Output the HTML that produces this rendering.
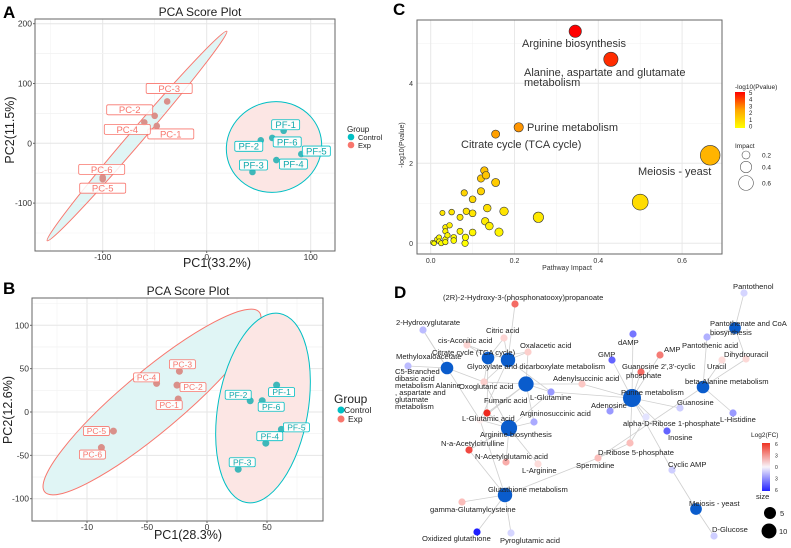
<!DOCTYPE html>
<html><head><meta charset="utf-8"><style>
html,body{margin:0;padding:0;background:#fff;}
svg{display:block;font-family:"Liberation Sans",sans-serif;}
</style></head><body>
<svg id="fig" width="791" height="548" viewBox="0 0 791 548" xmlns="http://www.w3.org/2000/svg">
<g id="pA"></g>
<g id="pB"></g>
<g id="pC"></g>
<g id="pD"></g>
</svg>
<script>
// ---------- Panel A data ----------
const aNames = ["PC-1","PC-2","PC-3","PC-4","PC-5","PC-6","PF-1","PF-2","PF-3","PF-4","PF-5","PF-6"];
const aPC1 = [-48,-50,-38,-60,-100,-100,74,52,44,67,91,63];
const aPC2 = [29,46,70,35,-60,-57,21,5,-48,-28,-18,9];
const aXTicks = [-100,0,100];
const aYTicks = [-100,0,100,200];
// ---------- Panel B data ----------
const bNames = ["PC-1","PC-2","PC-3","PC-4","PC-5","PC-6","PF-1","PF-2","PF-3","PF-4","PF-5","PF-6"];
const bPC1 = [-24,-25,-23,-42,-78,-88,58,36,26,49,62,46];
const bPC2 = [15,31,47,33,-22,-41,31,13,-66,-36,-20,13];
const bXTicks = [-100,-50,0,50];
const bXTickLabels = ["-10","-50","0","50"];
const bYTicks = [-100,-50,0,50,100];
// ---------- Panel C data ----------
const cImpact = [0.345,0.43,0.21,0.155,0.667,0.5,0.257,0.175,0.163,0.14,0.13,0.135,0.155,0.128,0.132,0.12,0.12,0.1,0.08,0.085,0.1,0.07,0.05,0.028,0.1,0.083,0.082,0.07,0.045,0.035,0.035,0.04,0.055,0.055,0.035,0.035,0.02,0.02,0.015,0.025,0.008,0.005];
const cLogP = [5.3,4.6,2.9,2.73,2.2,1.03,0.65,0.8,0.28,0.43,0.55,0.88,1.52,1.82,1.7,1.62,1.3,1.1,1.26,0.8,0.75,0.65,0.78,0.76,0.27,0.15,0.0,0.3,0.45,0.4,0.3,0.2,0.15,0.07,0.1,0.03,0.15,0.05,0.1,0.0,0.0,0.02];
const cXTicks = [0,0.2,0.4,0.6];
const cXTickLabels = ["0.0","0.2","0.4","0.6"];
const cYTicks = [0,2,4];

const NS="http://www.w3.org/2000/svg";
function mk(parent,tag,attrs,text){const e=document.createElementNS(NS,tag);for(const k in attrs)e.setAttribute(k,attrs[k]);if(text!==undefined)e.textContent=text;parent.appendChild(e);return e;}

const EXP="#F8766D", CTL="#00BFC4";

function pcaPanel(g,o){
  const {L,R,T,B,sx,sy,xt,xtl,yt,names,xs,ys,offs,fs,bwE,bwC,bh,ells}=o;
  const bg=mk(g,'rect',{x:L,y:T,width:R-L,height:B-T,fill:'#fff'});
  
  
  for(let i=0;i<xt.length;i++){
    const v=xt[i]; const step=xt[1]-xt[0];
    [v-step/2,v+step/2].forEach(m=>{const px=sx(m); if(px>L&&px<R){mk(g,'line',{x1:px,x2:px,y1:T,y2:B,stroke:'#f2f2f2','stroke-width':0.6});}});
    const l=mk(g,'line',{x1:sx(v),x2:sx(v),y1:T,y2:B,stroke:'#e6e6e6','stroke-width':1});
    
    
  }
  for(let i=0;i<yt.length;i++){
    const v=yt[i]; const step=yt[1]-yt[0];
    [v-step/2,v+step/2].forEach(m=>{const py=sy(m); if(py>T&&py<B){mk(g,'line',{x1:L,x2:R,y1:py,y2:py,stroke:'#f2f2f2','stroke-width':0.6});}});
    const l=mk(g,'line',{x1:L,x2:R,y1:sy(v),y2:sy(v),stroke:'#e6e6e6','stroke-width':1});
    
    
  }
  ells.forEach(e=>{
    const el=mk(g,'ellipse',{cx:e.cx,cy:e.cy,rx:e.rx,ry:e.ry,transform:`rotate(${e.rot} ${e.cx} ${e.cy})`,fill:e.fill,stroke:e.stroke,'stroke-width':1});
    
    
  });
  for(let i=0;i<names.length;i++){
    const isExp=names[i].startsWith('PC');
    const px=sx(xs[i]), py=sy(ys[i]);
    const c=mk(g,'circle',{cx:px,cy:py,r:o.pr,fill:isExp?'#d9908a':'#3fb7b9'});
    
    
  }
  for(let i=0;i<names.length;i++){
    const isExp=names[i].startsWith('PC');
    const bw=isExp?bwE:bwC;
    const px=sx(xs[i])+offs[i][0], py=sy(ys[i])+offs[i][1];
    const r=mk(g,'rect',{x:px-bw/2,y:py-bh/2,width:bw,height:bh,rx:1.5,fill:'rgba(255,255,255,0.85)',stroke:isExp?EXP:CTL,'stroke-width':0.8});
    
    
    const t=mk(g,'text',{x:px,y:py+fs*0.36,'text-anchor':'middle','font-size':fs,fill:isExp?EXP:'#10a9ad'},names[i]);
    
    
  }
  const fr=mk(g,'rect',{x:L,y:T,width:R-L,height:B-T,fill:'none',stroke:'#666','stroke-width':1});
  
  
  xt.forEach((v,i)=>{const t=mk(g,'text',{x:sx(v),y:B+9,'text-anchor':'middle','font-size':8.5,fill:'#333'},xtl?xtl[i]:String(v));
    
    
    mk(g,'line',{x1:sx(v),x2:sx(v),y1:B,y2:B+2,stroke:'#666'});});
  yt.forEach(v=>{const t=mk(g,'text',{x:L-3,y:sy(v)+3,'text-anchor':'end','font-size':8.5,fill:'#333'},String(v));
    
    
    mk(g,'line',{x1:L-2,x2:L,y1:sy(v),y2:sy(v),stroke:'#666'});});
}

// Panel A
(function(){
  const g=document.getElementById('pA');
  const sx=v=>206.7+v*1.04, sy=v=>143.3-v*0.598;
  pcaPanel(g,{L:35,R:335,T:19,B:251,sx,sy,xt:aXTicks,yt:aYTicks,names:aNames,xs:aPC1,ys:aPC2,pr:3.3,fs:9.5,bwE:46,bwC:28,bh:10,
    offs:[[14,8],[-25,-6],[2,-13],[-17,7],[0,9],[-1,-8],[2,-6],[-12,6],[1,-7],[17,4],[15,-3],[15,4]],
    ells:[{name:'exp-ellipse',cx:137,cy:136,rx:138,ry:7,rot:-49.4,fill:'#e0f5f5',stroke:EXP},
          {name:'control-ellipse',cx:274,cy:147,rx:48,ry:45,rot:-20,fill:'#fce6e4',stroke:CTL}]});
  let t;
  t=mk(g,'text',{x:3,y:18,'font-size':17,'font-weight':'bold',fill:'#000'},'A');  
  t=mk(g,'text',{x:200,y:16,'text-anchor':'middle','font-size':12,fill:'#222'},'PCA Score Plot');  
  t=mk(g,'text',{x:217,y:267,'text-anchor':'middle','font-size':12.5,fill:'#222'},'PC1(33.2%)');  
  t=mk(g,'text',{x:14,y:130,'text-anchor':'middle','font-size':12.5,fill:'#222',transform:'rotate(-90 14 130)'},'PC2(11.5%)');  
  t=mk(g,'text',{x:347,y:132,'font-size':8,fill:'#222'},'Group');  
  mk(g,'circle',{cx:351,cy:137,r:3.3,fill:CTL});
  t=mk(g,'text',{x:358,y:140,'font-size':7.5,fill:'#222'},'Control');  
  mk(g,'circle',{cx:351,cy:145,r:3.3,fill:EXP});
  t=mk(g,'text',{x:358,y:148,'font-size':7.5,fill:'#222'},'Exp');  
})();

// Panel B
(function(){
  const g=document.getElementById('pB');
  const sx=v=>207+v*1.2, sy=v=>412-v*0.867;
  pcaPanel(g,{L:32,R:323,T:298,B:521,sx,sy,xt:bXTicks,xtl:bXTickLabels,yt:bYTicks,names:bNames,xs:bPC1,ys:bPC2,pr:3.5,fs:8.5,bwE:26,bwC:26,bh:9,
    offs:[[-9,6],[16,2],[3,-7],[-10,-6],[-17,0],[-9,7],[5,7],[-12,-6],[4,-7],[4,-7],[15,-2],[9,6]],
    ells:[{name:'exp-ellipse',cx:152,cy:402,rx:140,ry:30,rot:-40,fill:'#e0f5f5',stroke:EXP},
          {name:'control-ellipse',cx:263,cy:408,rx:45,ry:96,rot:10,fill:'#fce6e4',stroke:CTL}]});
  let t;
  t=mk(g,'text',{x:3,y:294,'font-size':17,'font-weight':'bold',fill:'#000'},'B');  
  t=mk(g,'text',{x:188,y:295,'text-anchor':'middle','font-size':12,fill:'#222'},'PCA Score Plot');  
  t=mk(g,'text',{x:188,y:539,'text-anchor':'middle','font-size':12.5,fill:'#222'},'PC1(28.3%)');  
  t=mk(g,'text',{x:12,y:410,'text-anchor':'middle','font-size':12.5,fill:'#222',transform:'rotate(-90 12 410)'},'PC2(12.6%)');  
  t=mk(g,'text',{x:334,y:403,'font-size':12,fill:'#222'},'Group');  
  mk(g,'circle',{cx:341,cy:410,r:3.5,fill:CTL});
  t=mk(g,'text',{x:344,y:413,'font-size':8.5,fill:'#222'},'Control');  
  mk(g,'circle',{cx:341,cy:419,r:3.5,fill:EXP});
  t=mk(g,'text',{x:348,y:422,'font-size':8.5,fill:'#222'},'Exp');  
})();

// Panel C
(function(){
  const g=document.getElementById('pC');
  const L=417,R=722,T=20,B=254;
  const sx=v=>430.7+v*419, sy=v=>243.3-v*40;
  let t;
  mk(g,'rect',{x:L,y:T,width:R-L,height:B-T,fill:'#fff'});
  [0.1,0.3,0.5].forEach(v=>mk(g,'line',{x1:sx(v),x2:sx(v),y1:T,y2:B,stroke:'#f3f3f3','stroke-width':0.6}));
  [1,3,5].forEach(v=>mk(g,'line',{x1:L,x2:R,y1:sy(v),y2:sy(v),stroke:'#f3f3f3','stroke-width':0.6}));
  cXTicks.forEach((v,i)=>{const l=mk(g,'line',{x1:sx(v),x2:sx(v),y1:T,y2:B,stroke:'#e8e8e8','stroke-width':1});
     
    const tx=mk(g,'text',{x:sx(v),y:B+9,'text-anchor':'middle','font-size':7,fill:'#333'},cXTickLabels[i]);
     });
  cYTicks.forEach(v=>{const l=mk(g,'line',{x1:L,x2:R,y1:sy(v),y2:sy(v),stroke:'#e8e8e8','stroke-width':1});
     
    const tx=mk(g,'text',{x:L-4,y:sy(v)+2.5,'text-anchor':'end','font-size':7,fill:'#333'},String(v));
     });
  function col(p){const f=Math.max(0,Math.min(1,p/5.3));
    const gch = f<0.5 ? 255-(255-165)*(f/0.5) : 165*(1-(f-0.5)/0.5);
    return `rgb(255,${Math.round(gch)},0)`;}
  const idx=cImpact.map((_,i)=>i).sort((a,b)=>cImpact[a]-cImpact[b]);
  idx.forEach(i=>{const c=mk(g,'circle',{cx:sx(cImpact[i]),cy:sy(cLogP[i]),r:2.3+11.3*cImpact[i],fill:col(cLogP[i]),stroke:'#333','stroke-width':0.6});
     });
  const fr=mk(g,'rect',{x:L,y:T,width:R-L,height:B-T,fill:'none',stroke:'#666','stroke-width':1});
   
  const labs=[["Arginine biosynthesis",522,47],["Alanine, aspartate and glutamate",524,76],["metabolism",524,86],["Purine metabolism",527,131],["Citrate cycle (TCA cycle)",461,148],["Meiosis - yeast",638,175]];
  labs.forEach(l=>{t=mk(g,'text',{x:l[1],y:l[2],'font-size':11,fill:'#333'},l[0]);  });
  t=mk(g,'text',{x:393,y:15,'font-size':17,'font-weight':'bold',fill:'#000'},'C');  
  t=mk(g,'text',{x:567,y:270,'text-anchor':'middle','font-size':7,fill:'#333'},'Pathway Impact');  
  t=mk(g,'text',{x:404,y:145,'text-anchor':'middle','font-size':7,fill:'#333',transform:'rotate(-90 404 145)'},'-log10(Pvalue)');  
  t=mk(g,'text',{x:735,y:89,'font-size':6.5,fill:'#222'},'-log10(Pvalue)');  
  const defs=mk(g,'defs',{});
  const lg=mk(defs,'linearGradient',{id:'cgrad',x1:0,y1:1,x2:0,y2:0});
  mk(lg,'stop',{offset:'0',"stop-color":'#ffff00'});mk(lg,'stop',{offset:'0.5',"stop-color":'#ffa500'});mk(lg,'stop',{offset:'1',"stop-color":'#ff0000'});
  const cb=mk(g,'rect',{x:735,y:92,width:10,height:36,fill:'url(#cgrad)'});
   
  [5,4,3,2,1,0].forEach((v,i)=>{mk(g,'text',{x:749,y:95+i*6.7,'font-size':6,fill:'#222'},String(v));});
  t=mk(g,'text',{x:735,y:148,'font-size':6.5,fill:'#222'},'Impact');  
  [[0.2,155],[0.4,167],[0.6,183]].forEach(s=>{mk(g,'circle',{cx:746,cy:s[1],r:2.3+11.3*s[0]*0.75,fill:'none',stroke:'#555','stroke-width':0.6});
    const tx=mk(g,'text',{x:762,y:s[1]+2.5,'font-size':6.5,fill:'#222'},String(s[0]));  });
})();

// Panel D: network
(function(){
  const g=document.getElementById('pD');
  const nodes={
    "2R":[515,304,'m',4,"(2R)-2-Hydroxy-3-(phosphonatooxy)propanoate",443,300],
    "HG":[423,330,'m',-1.5,"2-Hydroxyglutarate",396,325],
    "CIT":[504,338,'m',0.8,"Citric acid",486,333],
    "CIS":[467,345,'m',0.8,"cis-Aconitic acid",438,343],
    "OXA":[528,352,'m',1,"Oxalacetic acid",520,348],
    "TCA":[488,358,'h',7,"Citrate cycle (TCA cycle)",432,355],
    "GLY":[508,360,'h',8,"Glyoxylate and dicarboxylate metabolism",467,369],
    "MOA":[408,366,'m',-1.5,"Methyloxaloacetate",396,359],
    "C5":[447,368,'h',7,"",0,0],
    "ALA":[526,384,'h',8.5,"",0,0],
    "OXG":[484,382,'m',1,"Oxoglutaric acid",459,389],
    "ADS":[582,384,'m',1.2,"Adenylsuccinic acid",553,381],
    "GLN":[551,392,'m',-2.5,"L-Glutamine",530,400],
    "FUM":[487,413,'m',6,"Fumaric acid",484,403],
    "GLU":[480,420,'m',0,"L-Glutamic acid",462,421],
    "ASA":[534,422,'m',-2,"Argininosuccinic acid",520,416],
    "ARG":[509,428,'h',9,"Arginine biosynthesis",480,437],
    "NAC":[469,450,'m',5,"N-a-Acetylcitrulline",441,446],
    "NAG":[506,462,'m',2,"N-Acetylglutamic acid",475,459],
    "LAR":[538,464,'m',0.6,"L-Arginine",522,473],
    "GSH":[505,495,'h',8,"Glutathione metabolism",488,492],
    "GGC":[462,502,'m',1.5,"gamma-Glutamylcysteine",430,512],
    "OXG2":[477,532,'m',-6,"Oxidized glutathione",422,541],
    "PYR":[511,533,'m',-0.8,"Pyroglutamic acid",500,543],
    "PTL":[744,293,'m',-0.8,"Pantothenol",733,289],
    "PAN":[735,328,'h',6.5,"",0,0],
    "DAMP":[633,334,'m',-3.5,"dAMP",618,345],
    "PTA":[707,337,'m',-1.8,"Pantothenic acid",682,348],
    "AMP":[660,355,'m',3.5,"AMP",664,352],
    "GMP":[612,360,'m',-4,"GMP",598,357],
    "DHU":[746,359,'m',0.7,"Dihydrouracil",724,357],
    "URA":[722,360,'m',0.6,"Uracil",707,369],
    "G23":[641,372,'m',4,"",0,0],
    "BAL":[703,387,'h',7,"beta-Alanine metabolism",685,384],
    "PUR":[632,398,'h',10,"Purine metabolism",621,395],
    "GUO":[680,408,'m',-1,"Guanosine",677,405],
    "ADO":[610,411,'m',-2.5,"Adenosine",591,408],
    "ARP":[646,417,'m',-0.4,"alpha-D-Ribose 1-phosphate",623,426],
    "HIS":[733,413,'m',-2.5,"L-Histidine",720,422],
    "INO":[667,431,'m',-4,"Inosine",668,440],
    "R5P":[630,443,'m',1.5,"D-Ribose 5-phosphate",598,455],
    "SPD":[598,458,'m',1.5,"Spermidine",576,468],
    "CAMP":[672,470,'m',-1,"Cyclic AMP",668,467],
    "MEI":[696,509,'h',6.5,"Meiosis - yeast",689,506],
    "GLC":[714,536,'m',-1,"D-Glucose",712,532]
  };
  const edges=[["TCA","CIT"],["TCA","CIS"],["TCA","OXA"],["TCA","OXG"],["TCA","FUM"],["GLY","CIT"],["GLY","CIS"],["GLY","OXA"],["GLY","2R"],["GLY","OXG"],["GLY","GLU"],["GLY","GLN"],
    ["C5","MOA"],["C5","HG"],["C5","OXG"],["C5","GLU"],["ALA","ADS"],["ALA","GLN"],["ALA","OXG"],["ALA","FUM"],["ALA","ASA"],["ALA","OXA"],["ALA","GLU"],
    ["ARG","FUM"],["ARG","ASA"],["ARG","NAC"],["ARG","NAG"],["ARG","LAR"],["ARG","GLU"],["ARG","OXG"],["ARG","GLN"],
    ["GSH","GGC"],["GSH","OXG2"],["GSH","PYR"],["GSH","GLU"],["GSH","SPD"],["GSH","NAC"],
    ["PUR","DAMP"],["PUR","GMP"],["PUR","AMP"],["PUR","G23"],["PUR","ADS"],["PUR","ADO"],["PUR","GUO"],["PUR","ARP"],["PUR","INO"],["PUR","R5P"],["PUR","CAMP"],["PUR","GLN"],
    ["BAL","PTA"],["BAL","URA"],["BAL","DHU"],["BAL","HIS"],["BAL","SPD"],["PAN","PTL"],["PAN","PTA"],["PAN","DHU"],["MEI","CAMP"],["MEI","GLC"],["R5P","SPD"],["ARP","R5P"],["HG","C5"]];
  edges.forEach(e=>{const a=nodes[e[0]],b=nodes[e[1]];
    const l=mk(g,'line',{x1:a[0],y1:a[1],x2:b[0],y2:b[1],stroke:'#cfcfcf','stroke-width':0.8});
     });
  function fcCol(v){const f=Math.max(-1,Math.min(1,v/6));
    if(f>=0){const w=1-f; return `rgb(${Math.round(238+17*w)},${Math.round(40+215*w*0.93)},${Math.round(30+225*w*0.93)})`;}
    const w=1+f; return `rgb(${Math.round(30+215*w*0.98)},${Math.round(30+215*w*0.98)},255)`;}
  for(const k in nodes){const n=nodes[k];
    const c=mk(g,'circle',{cx:n[0],cy:n[1],r:n[2]==='h'?n[3]*0.9:3.6,fill:n[2]==='h'?'#0a5ccc':fcCol(n[3])});
     }
  for(const k in nodes){const n=nodes[k]; if(!n[4])continue;
    const t=mk(g,'text',{x:n[5],y:n[6],'font-size':7.6,fill:'#222'},n[4]);
     }
  const extra=[["Guanosine 2',3'-cyclic",622,369],["phosphate",626,378],["Pantothenate and CoA",710,326],["biosynthesis",710,335],
    ["C5-Branched",395,374],["dibasic acid",395,381],["metabolism Alanine",395,388],[", aspartate and",395,395],["glutamate",395,402],["metabolism",395,409]];
  extra.forEach(e=>{const t=mk(g,'text',{x:e[1],y:e[2],'font-size':7.6,fill:'#222'},e[0]);
     });
  let t=mk(g,'text',{x:394,y:298,'font-size':17,'font-weight':'bold',fill:'#000'},'D');  
  t=mk(g,'text',{x:751,y:437,'font-size':6.5,fill:'#222'},'Log2(FC)');  
  const defs=mk(g,'defs',{});
  const lg=mk(defs,'linearGradient',{id:'fcgrad',x1:0,y1:0,x2:0,y2:1});
  mk(lg,'stop',{offset:'0',"stop-color":'#ee3322'});mk(lg,'stop',{offset:'0.5',"stop-color":'#f8f4fa'});mk(lg,'stop',{offset:'1',"stop-color":'#2222ff'});
  const cb=mk(g,'rect',{x:762,y:443,width:8,height:48,fill:'url(#fcgrad)'});  
  ["6","3","0","3","6"].forEach((s,i)=>mk(g,'text',{x:775,y:446+i*11.5,'font-size':5,fill:'#222'},s));
  t=mk(g,'text',{x:756,y:499,'font-size':7.5,fill:'#222'},'size');  
  mk(g,'circle',{cx:770,cy:513,r:6,fill:'#000'});
  mk(g,'circle',{cx:769,cy:531,r:7.5,fill:'#000'});
  t=mk(g,'text',{x:780,y:516,'font-size':7.5,fill:'#222'},'5');  
  t=mk(g,'text',{x:779,y:534,'font-size':7.5,fill:'#222'},'10');  
})();
</script>
</body></html>
